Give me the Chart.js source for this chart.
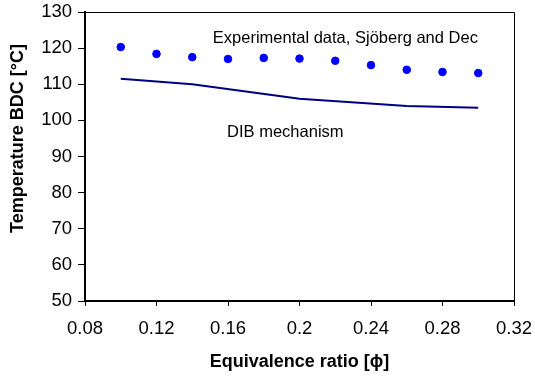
<!DOCTYPE html>
<html>
<head>
<meta charset="utf-8">
<script src="https://cdn.jsdelivr.net/npm/chart.js@4.4.1/dist/chart.umd.min.js"></script>
<style>
  html, body { margin: 0; padding: 0; background: #fff; }
  #wrap { width: 535px; height: 377px; }
</style>
</head>
<body>
<div id="wrap"><canvas id="phiChart"></canvas></div>
<script>
// values
var expPhi = [0.10, 0.12, 0.14, 0.16, 0.18, 0.20, 0.22, 0.24, 0.26, 0.28, 0.30];
var expTemp = [120.3, 118.4, 117.5, 117.0, 117.3, 117.1, 116.5, 115.3, 114.0, 113.4, 113.1];

var dibPhi = [0.10, 0.14, 0.20, 0.26, 0.30];
var dibTemp = [111.5, 110.0, 106.0, 104.0, 103.5];

var xTicks = [0.08, 0.12, 0.16, 0.2, 0.24, 0.28, 0.32];
var yTicks = [50, 60, 70, 80, 90, 100, 110, 120, 130];

function toPoints(xs, ys) {
	return xs.map(function (x, i) { return { x: x, y: ys[i] }; });
}

var FAMILY = 'Arial, "Liberation Sans", sans-serif';
var tickFont = { family: FAMILY, size: 18.5 };
var titleFont = { family: FAMILY, size: 18, weight: 'bold' };

// thin frame on top/right, y title, and the two text notes inside the plot
var notesPlugin = {
	id: 'notes',
	afterDraw: function (chart) {
		var c = chart.ctx, a = chart.chartArea;
		var xs = chart.scales.x, ys = chart.scales.y;
		c.save();
		c.strokeStyle = '#000';
		c.lineWidth = 1;
		c.beginPath();
		c.moveTo(a.left, a.top + 0.5);
		c.lineTo(a.right + 0.5, a.top + 0.5);
		c.lineTo(a.right + 0.5, a.bottom);
		c.stroke();

		c.fillStyle = '#000';
		c.font = '16.5px ' + FAMILY;
		c.textBaseline = 'middle';
		c.textAlign = 'left';
		c.fillText('Experimental data, Sjöberg and Dec', xs.getPixelForValue(0.1515), ys.getPixelForValue(122.6));
		c.fillText('DIB mechanism', xs.getPixelForValue(0.1595), ys.getPixelForValue(96.6));

		c.translate(18, 138.5);
		c.rotate(-Math.PI / 2);
		c.font = 'bold 18px ' + FAMILY;
		c.textAlign = 'center';
		c.fillText('Temperature BDC [°C]', 0, 0);
		c.restore();
	}
};

var ctx = document.getElementById('phiChart').getContext('2d');
var phiChart = new Chart(ctx, {
	type: 'scatter',
	data: {
		datasets: [{
			label: 'Experimental data, Sjöberg and Dec',
			data: toPoints(expPhi, expTemp),
			backgroundColor: '#0000ff',
			borderColor: '#0000ff',
			pointRadius: 3.8,
			pointHoverRadius: 3.8,
			showLine: false
		}, {
			label: 'DIB mechanism',
			data: toPoints(dibPhi, dibTemp),
			borderColor: '#000080',
			backgroundColor: '#000080',
			borderWidth: 2,
			pointRadius: 0,
			showLine: true,
			tension: 0
		}]
	},
	options: {
		responsive: true,
		maintainAspectRatio: false,
		animation: false,
		layout: { padding: { left: 0, right: 21, top: 12, bottom: 0 } },
		plugins: {
			legend: { display: false },
			tooltip: { enabled: false }
		},
		scales: {
			x: {
				type: 'linear',
				min: 0.08,
				max: 0.32,
				afterBuildTicks: function (s) { s.ticks = xTicks.map(function (v) { return { value: v }; }); },
				afterFit: function (s) { s.height = 76; s.paddingLeft = 0; s.paddingRight = 0; },
				grid: { drawOnChartArea: false, drawTicks: true, tickLength: 5, color: '#000', tickWidth: 1 },
				border: { display: true, color: '#000', width: 2 },
				ticks: {
					color: '#000',
					font: tickFont,
					padding: 12,
					maxRotation: 0,
					autoSkip: false,
					callback: function (v) { return String(parseFloat(v.toFixed(2))); }
				},
				title: {
					display: true,
					text: 'Equivalence ratio [ϕ]',
					color: '#000',
					font: titleFont,
					padding: { top: 0, bottom: 4 }
				}
			},
			y: {
				type: 'linear',
				min: 50,
				max: 130,
				afterBuildTicks: function (s) { s.ticks = yTicks.map(function (v) { return { value: v }; }); },
				afterFit: function (s) { s.width = 85; s.paddingTop = 0; s.paddingBottom = 0; },
				grid: { drawOnChartArea: false, drawTicks: true, tickLength: 7, color: '#000', tickWidth: 1 },
				border: { display: true, color: '#000', width: 2 },
				ticks: {
					color: '#000',
					font: tickFont,
					padding: 6,
					autoSkip: false
				},
				title: { display: false }
			}
		}
	},
	plugins: [notesPlugin]
});
</script>
</body>
</html>
